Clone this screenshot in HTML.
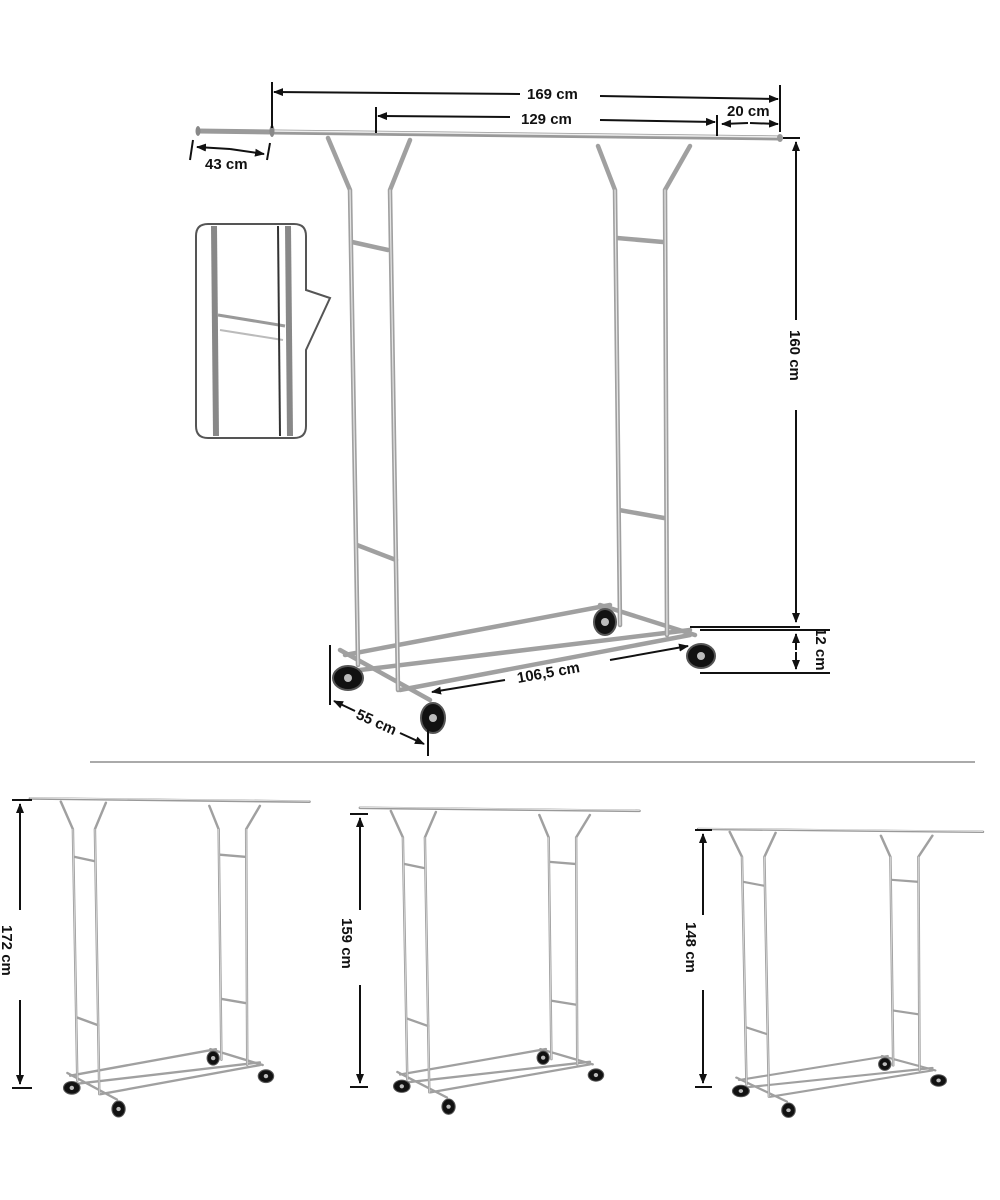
<!DOCTYPE html>
<html><head><style>
html,body{margin:0;padding:0;background:#fff;}
svg{display:block}
text{font-family:"Liberation Sans",sans-serif;font-size:15px;fill:#111;}
</style></head><body>
<svg width="1000" height="1200" viewBox="0 0 1000 1200" xmlns="http://www.w3.org/2000/svg">
<defs>
<marker id="ah" markerWidth="10" markerHeight="8" refX="9" refY="4" orient="auto" markerUnits="userSpaceOnUse">
<path d="M0,0 L10,4 L0,8 z" fill="#111"/></marker>
<g id="rack" fill="none" stroke-linecap="round">
 <path d="M272,132 L780,138" stroke="#999" stroke-width="5"/>
 <path d="M272,131 L780,137" stroke="#eee" stroke-width="1.5"/>
 <g stroke="#a0a0a0" stroke-width="4.5">
  <path d="M328,138 L350,190 L358,665"/>
  <path d="M410,140 L390,190 L398,690"/>
  <path d="M598,146 L615,190 L620,625"/>
  <path d="M690,146 L665,190 L667,635"/>
  <path d="M352,242 L388,250"/>
  <path d="M617,238 L663,242"/>
  <path d="M357,545 L396,560"/>
  <path d="M619,510 L664,518"/>
  <path d="M345,655 L610,605"/>
  <path d="M360,670 L690,630"/>
  <path d="M400,690 L690,635"/>
  <path d="M340,650 L430,700"/>
  <path d="M600,605 L695,635"/>
 </g>
 <g stroke="#e6e6e6" stroke-width="1.2">
  <path d="M350,190 L358,665"/><path d="M390,190 L398,690"/>
  <path d="M615,190 L620,625"/><path d="M665,190 L667,635"/>
 </g>
 <g fill="#111" stroke="#555" stroke-width="2">
  <ellipse cx="348" cy="678" rx="15" ry="12"/>
  <ellipse cx="433" cy="718" rx="12" ry="15"/>
  <ellipse cx="605" cy="622" rx="11" ry="13"/>
  <ellipse cx="701" cy="656" rx="14" ry="12"/>
 </g>
 <g fill="#bbb" stroke="none">
  <circle cx="348" cy="678" r="4"/><circle cx="433" cy="718" r="4"/>
  <circle cx="605" cy="622" r="4"/><circle cx="701" cy="656" r="4"/>
 </g>
</g>
</defs>

<use href="#rack"/>
<path d="M198,131 L272,132" stroke="#9a9a9a" stroke-width="5" fill="none"/>
<ellipse cx="198" cy="131" rx="2.5" ry="5" fill="#888"/>
<ellipse cx="272" cy="131" rx="2.5" ry="6" fill="#888"/>
<ellipse cx="780" cy="138" rx="3" ry="4" fill="#999"/>

<g stroke="#111" stroke-width="2" fill="none">
 <line x1="272" y1="82" x2="272" y2="128"/>
 <line x1="780" y1="85" x2="780" y2="132"/>
 <line x1="520" y1="94" x2="274" y2="92" marker-end="url(#ah)"/>
 <line x1="600" y1="96" x2="778" y2="99" marker-end="url(#ah)"/>
 <line x1="376" y1="107" x2="376" y2="133"/>
 <line x1="717" y1="115" x2="717" y2="136"/>
 <line x1="510" y1="117" x2="378" y2="116" marker-end="url(#ah)"/>
 <line x1="600" y1="120" x2="715" y2="122" marker-end="url(#ah)"/>
 <line x1="748" y1="123" x2="722" y2="124" marker-end="url(#ah)"/>
 <line x1="750" y1="123" x2="778" y2="124" marker-end="url(#ah)"/>
 <line x1="193" y1="140" x2="190" y2="160"/>
 <line x1="270" y1="143" x2="267" y2="160"/>
 <line x1="230" y1="149" x2="197" y2="147" marker-end="url(#ah)"/>
 <line x1="230" y1="149" x2="264" y2="154" marker-end="url(#ah)"/>
 <line x1="783" y1="138" x2="800" y2="138"/>
 <line x1="796" y1="320" x2="796" y2="142" marker-end="url(#ah)"/>
 <line x1="796" y1="410" x2="796" y2="622" marker-end="url(#ah)"/>
 <line x1="690" y1="627" x2="800" y2="627"/>
 <line x1="700" y1="630" x2="830" y2="630"/>
 <line x1="700" y1="673" x2="830" y2="673"/>
 <line x1="796" y1="650" x2="796" y2="634" marker-end="url(#ah)"/>
 <line x1="796" y1="652" x2="796" y2="669" marker-end="url(#ah)"/>
 <line x1="505" y1="680" x2="432" y2="692" marker-end="url(#ah)"/>
 <line x1="610" y1="660" x2="688" y2="646" marker-end="url(#ah)"/>
 <line x1="330" y1="645" x2="330" y2="705"/>
 <line x1="428" y1="730" x2="428" y2="756"/>
 <line x1="355" y1="711" x2="334" y2="701" marker-end="url(#ah)"/>
 <line x1="400" y1="733" x2="424" y2="744" marker-end="url(#ah)"/>
</g>
<g font-weight="bold">
<text x="527" y="99">169 cm</text>
<text x="521" y="124">129 cm</text>
<text x="727" y="116">20 cm</text>
<text x="205" y="169">43 cm</text>
<text transform="translate(790,330) rotate(90)">160 cm</text>
<text transform="translate(816,628) rotate(90)">12 cm</text>
<text transform="translate(518,683) rotate(-10)">106,5 cm</text>
<text transform="translate(355,718) rotate(24)">55 cm</text>
</g>

<g>
 <path d="M208,224 H294 Q306,224 306,236 V290 L330,298 L306,350 V426 Q306,438 294,438 H208 Q196,438 196,426 V236 Q196,224 208,224 Z" fill="#fff" stroke="#555" stroke-width="2"/>
 <g stroke="#888" stroke-width="6" fill="none">
  <line x1="214" y1="226" x2="216" y2="436"/>
  <line x1="288" y1="226" x2="290" y2="436"/>
 </g>
 <line x1="218" y1="315" x2="285" y2="326" stroke="#999" stroke-width="3"/>
 <line x1="220" y1="330" x2="283" y2="340" stroke="#bbb" stroke-width="2"/>
 <line x1="278" y1="226" x2="280" y2="436" stroke="#333" stroke-width="2"/>
</g>

<line x1="90" y1="762" x2="975" y2="762" stroke="#aaa" stroke-width="2"/>

<use href="#rack" transform="translate(-119.6,728.5) scale(0.55,0.53)"/>
<use href="#rack" transform="translate(210.4,740.5) scale(0.55,0.51)"/>
<use href="#rack" transform="translate(546,765.6) scale(0.56,0.48)"/>

<g stroke="#111" stroke-width="2" fill="none">
 <line x1="12" y1="800" x2="32" y2="800"/>
 <line x1="20" y1="910" x2="20" y2="804" marker-end="url(#ah)"/>
 <line x1="20" y1="1000" x2="20" y2="1084" marker-end="url(#ah)"/>
 <line x1="12" y1="1088" x2="32" y2="1088"/>
 <line x1="350" y1="814" x2="368" y2="814"/>
 <line x1="360" y1="910" x2="360" y2="818" marker-end="url(#ah)"/>
 <line x1="360" y1="985" x2="360" y2="1083" marker-end="url(#ah)"/>
 <line x1="350" y1="1087" x2="368" y2="1087"/>
 <line x1="695" y1="830" x2="712" y2="830"/>
 <line x1="703" y1="915" x2="703" y2="834" marker-end="url(#ah)"/>
 <line x1="703" y1="990" x2="703" y2="1083" marker-end="url(#ah)"/>
 <line x1="695" y1="1087" x2="712" y2="1087"/>
</g>
<g font-weight="bold">
<text transform="translate(2,925) rotate(90)">172 cm</text>
<text transform="translate(342,918) rotate(90)">159 cm</text>
<text transform="translate(686,922) rotate(90)">148 cm</text>
</g>
</svg>
</body></html>
